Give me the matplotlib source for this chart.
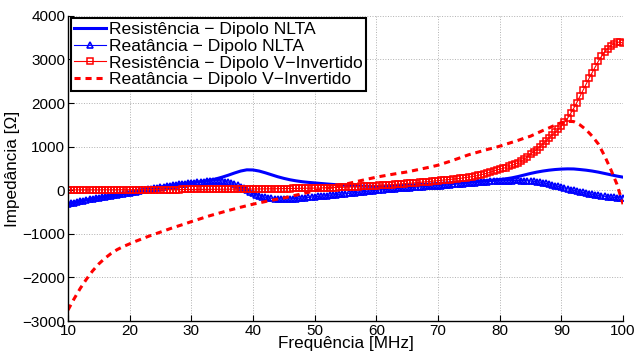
import numpy as np
import matplotlib
matplotlib.use("Agg")
import matplotlib.pyplot as plt

plt.rcParams['font.family'] = ['Liberation Sans', 'DejaVu Sans']

# frequências (MHz)
freq = np.arange(10, 101, 1.0)          # curvas sem marcador
freq_fino = np.arange(10, 100.25, 0.5)  # curvas com marcador

# Resistência - Dipolo NLTA (passo 1 MHz)
res_nlta = [
    -315, -282, -252, -224, -198, -174, -150, -128, -106, -84,
    -61, -33, -5, 22, 49, 75, 95, 114, 133, 151,
    169, 186, 205, 228, 260, 300, 345, 395, 440, 468,
    465, 440, 400, 355, 310, 272, 240, 215, 195, 180,
    168, 155, 143, 132, 122, 112, 105, 98, 93, 90,
    88, 90, 95, 100, 106, 112, 120, 128, 136, 145,
    155, 163, 172, 180, 188, 195, 203, 212, 222, 233,
    245, 262, 285, 315, 350, 385, 415, 440, 460, 475,
    485, 490, 488, 475, 460, 440, 415, 385, 355, 325,
    300,
]

# Reatância - Dipolo V-Invertido (passo 1 MHz)
reat_v = [
    -2750, -2490, -2250, -2040, -1850, -1690, -1560, -1450, -1360, -1290,
    -1230, -1170, -1115, -1060, -1010, -960, -910, -860, -815, -770,
    -720, -675, -630, -585, -545, -505, -465, -428, -390, -355,
    -320, -290, -260, -230, -203, -177, -145, -112, -80, -48,
    -15, 15, 45, 78, 110, 140, 172, 205, 237, 268,
    300, 325, 350, 375, 398, 420, 450, 480, 510, 540,
    575, 620, 665, 715, 765, 815, 855, 895, 935, 970,
    1010, 1055, 1100, 1145, 1195, 1240, 1305, 1370, 1430, 1495,
    1550, 1580, 1575, 1500, 1390, 1240, 1060, 790, 480, 140,
    -320,
]

# Reatância - Dipolo NLTA (passo 0,5 MHz)
reat_nlta = [
    -315,
    -298, -282, -267, -252, -238, -224, -211, -198, -186, -174,
    -162, -150, -139, -128, -117, -106, -95, -84, -72, -61,
    -47, -33, -19, -5, 8, 22, 35, 49, 62, 75,
    85, 95, 105, 114, 124, 133, 142, 151, 160, 169,
    177, 185, 193, 200, 207, 213, 218, 220, 219, 212,
    200, 185, 165, 140, 112, 82, 50, 5, -35, -70,
    -100, -125, -145, -162, -175, -185, -192, -197, -200, -201,
    -200, -198, -195, -190, -185, -179, -172, -165, -158, -150,
    -143, -136, -129, -122, -115, -108, -101, -94, -87, -80,
    -72, -64, -56, -48, -40, -32, -24, -16, -8, 0,
    6, 12, 18, 24, 30, 36, 42, 47, 52, 57,
    62, 67, 72, 77, 82, 87, 92, 97, 101, 105,
    107, 114, 120, 127, 133, 140, 146, 152, 158, 164,
    170, 176, 181, 187, 192, 197, 202, 206, 210, 214,
    217, 220, 222, 223, 224, 224, 223, 221, 217, 212,
    205, 196, 185, 172, 157, 140, 122, 104, 86, 68,
    50, 32, 14, -3, -20, -36, -52, -67, -81, -94,
    -107, -119, -130, -140, -149, -157, -164, -169, -173, -176,
]

# Resistência - Dipolo V-Invertido (passo 0,5 MHz)
res_v = [
    8,
    8, 8, 8, 9, 9, 9, 9, 9, 10, 10,
    10, 10, 10, 11, 11, 11, 11, 12, 12, 12,
    12, 12, 13, 13, 13, 13, 14, 14, 14, 14,
    15, 15, 15, 16, 16, 16, 17, 17, 18, 18,
    18, 19, 19, 20, 20, 21, 21, 22, 22, 23,
    23, 24, 24, 25, 26, 26, 27, 27, 28, 28,
    29, 30, 30, 31, 32, 33, 34, 35, 36, 37,
    38, 39, 40, 42, 43, 44, 45, 46, 47, 48,
    50, 52, 54, 56, 58, 60, 62, 65, 67, 70,
    73, 76, 79, 82, 86, 90, 94, 98, 102, 106,
    110, 114, 119, 124, 129, 134, 139, 144, 150, 155,
    161, 167, 173, 179, 185, 192, 199, 206, 213, 220,
    226, 232, 239, 246, 253, 261, 270, 280, 290, 300,
    312, 325, 340, 356, 374, 393, 415, 440, 465, 480,
    500, 520, 545, 570, 600, 635, 670, 715, 770, 830,
    880, 930, 995, 1060, 1130, 1200, 1265, 1330, 1400, 1470,
    1560, 1650, 1760, 1880, 2010, 2150, 2290, 2430, 2570, 2700,
    2830, 2960, 3070, 3170, 3250, 3310, 3360, 3390, 3400, 3370,
]

fig = plt.figure(figsize=(6.41, 3.52), dpi=100)
ax = fig.add_axes([0.106, 0.088, 0.866, 0.867])

ax.plot(freq, res_nlta, color='#0000ff', lw=2.2,
        label='Resistência − Dipolo NLTA')
ax.plot(freq_fino, reat_nlta, color='#0000ff', lw=0.8, marker='^',
        ms=5, mfc='none', mew=1.2, label='Reatância − Dipolo NLTA')
ax.plot(freq_fino, res_v, color='#ff0000', lw=0.8, marker='s',
        ms=4.2, mfc='none', mew=1.1, label='Resistência − Dipolo V−Invertido')
ax.plot(freq, reat_v, color='#ff0000', lw=2.2, dashes=(2.0, 1.6),
        label='Reatância − Dipolo V−Invertido')

ax.set_xlim(10, 100)
ax.set_ylim(-3000, 4000)
ax.set_xticks(range(10, 101, 10))
ax.set_yticks(range(-3000, 4001, 1000))
ax.grid(True, ls=':', color='#b0b0b0', lw=0.7)
for s in ['top', 'right']:
    ax.spines[s].set_visible(False)
ax.spines['left'].set_linewidth(1.0)
ax.spines['bottom'].set_linewidth(1.0)
ax.tick_params(direction='in', length=4, labelsize=11, pad=2)

ax.set_xlabel('Frequência [MHz]', fontsize=12.3, labelpad=-1)
ax.set_ylabel('Impedância [Ω]', fontsize=12.3, labelpad=2)

leg = ax.legend(loc='upper left', fontsize=12.6, fancybox=False,
                edgecolor='black', framealpha=1, borderpad=0.2,
                labelspacing=0.08, handlelength=1.8, handletextpad=0.2,
                borderaxespad=0.15)
leg.get_frame().set_linewidth(1.5)

fig.savefig('out.png', dpi=100)
